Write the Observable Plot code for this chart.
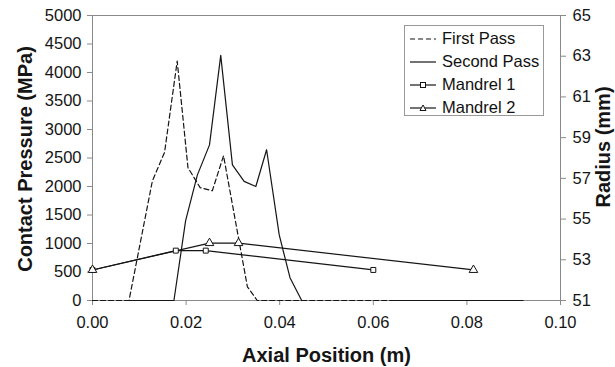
<!DOCTYPE html>
<html>
<head>
<meta charset="utf-8">
<script src="https://cdn.jsdelivr.net/npm/d3@7"></script>
<script src="https://cdn.jsdelivr.net/npm/@observablehq/plot@0.6"></script>
<style>
  html, body { margin: 0; padding: 0; background: white; }
  #wrap { position: relative; width: 615px; height: 367px; font-family: "Liberation Sans", Arial, sans-serif; }
  #legend { position: absolute; left: 404px; top: 25px; width: 140px; height: 91px; border: 1px solid #999; background: white; box-sizing: border-box; padding-top: 1px; }
  .row { height: 23px; display: flex; align-items: center; font-size: 16.5px; color: #111; white-space: nowrap; }
  .row svg { margin-left: 5px; margin-right: 6px; flex: none; }
</style>
</head>
<body>
<div id="wrap"><div id="chart"></div><div id="legend"></div></div>
<script>
// ---- data ----
const firstX = [0, 0.0078, 0.0128, 0.0154, 0.0181, 0.0204, 0.0230, 0.0256, 0.0280, 0.0331, 0.0352, 0.0637];
const firstY = [0, 0, 2100, 2600, 4200, 2330, 1980, 1925, 2540, 240, 0, 0];

const secondX = [0.0078, 0.0174, 0.0199, 0.0224, 0.0250, 0.0274, 0.0299, 0.0324, 0.0349, 0.0372, 0.0399, 0.0422, 0.0447, 0.0550, 0.0637, 0.0920];
const secondY = [0, 0, 1400, 2200, 2730, 4300, 2380, 2090, 2000, 2645, 1150, 400, 0, NaN, 0, 0];

const mandrel1X = [0, 0.0178, 0.0242, 0.0600];
const mandrel1R = [52.5, 53.45, 53.45, 52.5];
const mandrel2X = [0, 0.0250, 0.0312, 0.0814];
const mandrel2R = [52.5, 53.82, 53.82, 52.5];

const xTicks = [0, 0.02, 0.04, 0.06, 0.08, 0.10];
const pressureTicks = [0, 500, 1000, 1500, 2000, 2500, 3000, 3500, 4000, 4500, 5000];
const radiusTicks = [51, 53, 55, 57, 59, 61, 63, 65];
const seriesNames = ["First Pass", "Second Pass", "Mandrel 1", "Mandrel 2"];

// ---- mapping radius onto the pressure scale (secondary axis) ----
const pMin = 0, pMax = 5000, rMin = 51, rMax = 65;
const toP = r => (r - rMin) / (rMax - rMin) * (pMax - pMin) + pMin;
const fromP = p => (p - pMin) / (pMax - pMin) * (rMax - rMin) + rMin;

const first = firstX.map((x, i) => ({x, y: firstY[i]}));
const second = secondX.map((x, i) => ({x, y: secondY[i]}));
const m1 = mandrel1X.map((x, i) => ({x, y: toP(mandrel1R[i])}));
const m2 = mandrel2X.map((x, i) => ({x, y: toP(mandrel2R[i])}));

const ink = "#151515";
const axisGray = "#8a8a8a";

const chart = Plot.plot({
  width: 615,
  height: 367,
  marginLeft: 92,
  marginRight: 55,
  marginTop: 15,
  marginBottom: 67,
  x: {domain: [0, 0.1]},
  y: {domain: [pMin, pMax]},
  style: {fontFamily: "'Liberation Sans', Arial, sans-serif", fontSize: "16.5px", color: ink, background: "white", overflow: "visible"},
  marks: [
    Plot.frame({stroke: axisGray}),
    Plot.axisX({ticks: xTicks, tickFormat: d3.format(".2f"), tickSize: 5, tickPadding: 11, label: null, stroke: axisGray, fill: ink, fontSize: 16.5}),
    Plot.axisY({ticks: pressureTicks, tickFormat: d3.format("d"), tickSize: 5, tickPadding: 6, label: null, stroke: axisGray, fill: ink, fontSize: 16.5}),
    Plot.axisY({anchor: "right", ticks: radiusTicks.map(toP), tickFormat: d => String(Math.round(fromP(d))), tickSize: 5, tickPadding: 7, label: null, stroke: axisGray, fill: ink, fontSize: 16.5}),
    Plot.line(first, {x: "x", y: "y", stroke: ink, strokeWidth: 1.2, strokeDasharray: "5,3"}),
    Plot.line(second, {x: "x", y: "y", stroke: ink, strokeWidth: 1.2}),
    Plot.line(m1, {x: "x", y: "y", stroke: ink, strokeWidth: 1.2}),
    Plot.line(m2, {x: "x", y: "y", stroke: ink, strokeWidth: 1.2}),
    Plot.dot(m1, {x: "x", y: "y", symbol: "square", r: 2.8, stroke: ink, strokeWidth: 1, fill: "white"}),
    Plot.dot(m2, {x: "x", y: "y", symbol: "triangle", r: 3.2, stroke: ink, strokeWidth: 1, fill: "white"}),
    Plot.text(["Axial Position (m)"], {text: d => d, frameAnchor: "bottom", dy: 55, lineAnchor: "middle", textAnchor: "middle", fontWeight: "bold", fontSize: 20, fill: ink}),
    Plot.text(["Contact Pressure (MPa)"], {text: d => d, frameAnchor: "left", dx: -67, dy: 1, rotate: -90, lineAnchor: "middle", textAnchor: "middle", fontWeight: "bold", fontSize: 20, fill: ink}),
    Plot.text(["Radius (mm)"], {text: d => d, frameAnchor: "right", dx: 43, dy: -11, rotate: -90, lineAnchor: "middle", textAnchor: "middle", fontWeight: "bold", fontSize: 20, fill: ink})
  ]
});
document.getElementById("chart").appendChild(chart);

// ---- legend (inside the plot area, as in the reference) ----
const swatches = [
  `<line x1="0" y1="5" x2="26" y2="5" stroke="${ink}" stroke-width="1.2" stroke-dasharray="5,3"/>`,
  `<line x1="0" y1="5" x2="26" y2="5" stroke="${ink}" stroke-width="1.2"/>`,
  `<line x1="0" y1="5" x2="26" y2="5" stroke="${ink}" stroke-width="1.2"/><rect x="10.5" y="2.5" width="5" height="5" fill="white" stroke="${ink}" stroke-width="1"/>`,
  `<line x1="0" y1="5" x2="26" y2="5" stroke="${ink}" stroke-width="1.2"/><path d="M13,2 L16,7.5 L10,7.5 Z" fill="white" stroke="${ink}" stroke-width="1"/>`
];
const legend = document.getElementById("legend");
seriesNames.forEach((name, i) => {
  const row = document.createElement("div");
  row.className = "row";
  row.innerHTML = `<svg width="26" height="10">${swatches[i]}</svg><span>${name}</span>`;
  legend.appendChild(row);
});
</script>
</body>
</html>
